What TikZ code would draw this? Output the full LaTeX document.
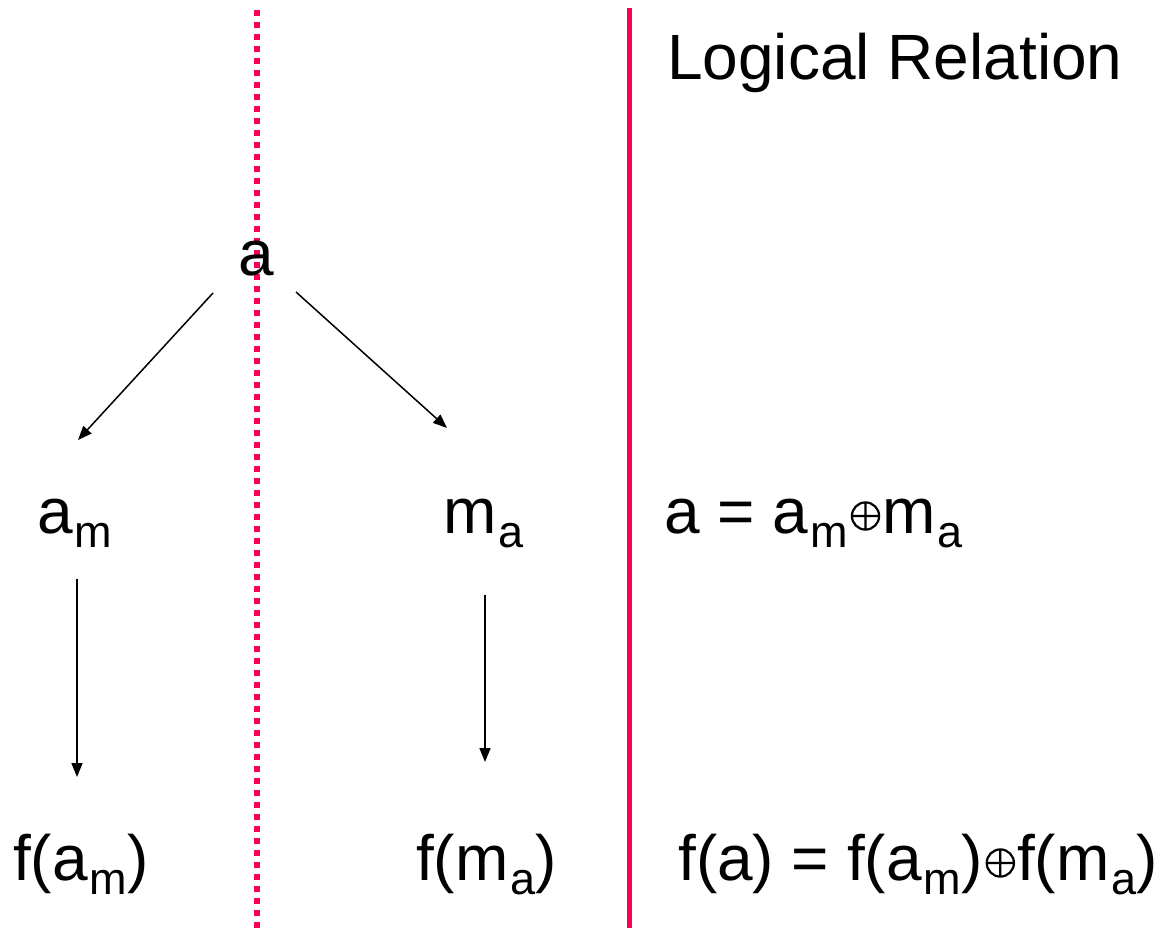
\documentclass[tikz,border=0pt]{standalone}
\usepackage{fontspec}
\setmainfont{Liberation Sans}
\usetikzlibrary{arrows.meta}
\definecolor{rose}{RGB}{250,0,78}
\newcommand\sbs[1]{\hspace{2pt}\raisebox{-14pt}{\fontsize{45}{45}\selectfont #1}}
\newcommand\opl{\hspace{3pt}\tikz[baseline=0pt]{\draw[line width=2.2pt] (0pt,17pt) circle[radius=13.6pt] (-13.6pt,17pt) -- (13.6pt,17pt) (0pt,3.4pt) -- (0pt,30.6pt);}\hspace{2pt}}
\tikzset{
  txt/.style={inner sep=0pt, font=\fontsize{64}{70}\selectfont},
  arr/.style={line width=1.5pt, -{Triangle[length=14pt,width=11pt]}},
  divdot/.style={draw=rose, line width=6pt, dash pattern=on 6pt off 6pt},
  divsolid/.style={draw=rose, line width=5.5pt}
}
\begin{document}
\begin{tikzpicture}[x=1pt,y=-1pt]
\useasboundingbox (0,0) rectangle (1167,928);
% dividers
\coordinate (dt) at (257,10);
\coordinate (db) at (257,928);
\coordinate (st) at (629.5,8);
\coordinate (sb) at (629.5,928);
\draw[divdot] (dt) -- (db);
\draw[divsolid] (st) -- (sb);
% texts
\node[txt, anchor=base west] (title) at (667,80) {Logical Relation};
\node[txt, anchor=base] (a) at (256,275) {a};
\node[txt, anchor=base west] (am) at (37,533) {a\sbs{m}};
\node[txt, anchor=base west] (ma) at (443,533) {m\sbs{a}};
\node[txt, anchor=base west] (fam) at (13,880) {f(a\sbs{m})};
\node[txt, anchor=base west] (fma) at (416,880) {f(m\sbs{a})};
\node[txt, anchor=base west] (eq1) at (664,533) {a = a\sbs{m}\opl m\sbs{a}};
\node[txt, anchor=base west] (eq2) at (678,880) {f(a) = f(a\sbs{m})\opl f(m\sbs{a})};
% arrow ends
\coordinate (a1) at (213,293);
\coordinate (am1) at (78,440);
\coordinate (a2) at (296,292);
\coordinate (ma1) at (447,428);
\coordinate (am2) at (77,579);
\coordinate (fam1) at (77,777);
\coordinate (ma2) at (485,595);
\coordinate (fma1) at (485,762);
\draw[arr] (a1) -- (am1);
\draw[arr] (a2) -- (ma1);
\draw[arr] (am2) -- (fam1);
\draw[arr] (ma2) -- (fma1);
\end{tikzpicture}
\end{document}
